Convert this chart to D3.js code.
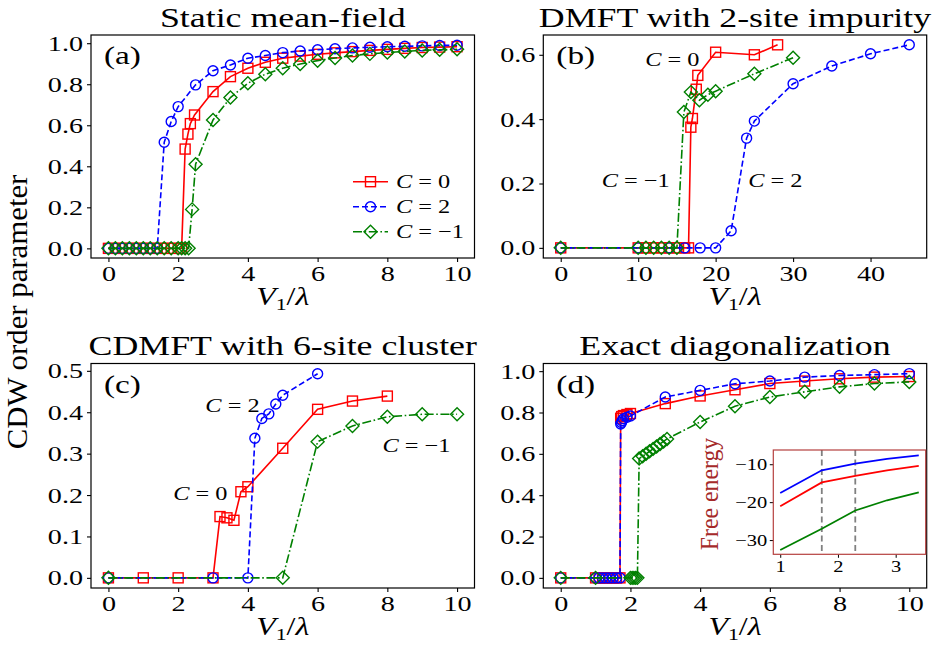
<!DOCTYPE html>
<html><head><meta charset="utf-8">
<script src="https://cdn.jsdelivr.net/npm/d3@7"></script>
<style>body{margin:0;background:#fff}svg{display:block}</style>
</head><body>
<script>
// ---------------- DATA ----------------
// (a) Static mean-field
const a_x_C0  = [0,0.2,0.4,0.6,0.8,1.0,1.2,1.4,1.6,1.8,2.0,2.1,2.2,2.28,2.35,2.47,3.0,3.5,4.0,4.5,5.0,5.5,6.0,6.5,7.0,7.5,8.0,8.5,9.0,9.5,10.0];
const a_y_C0  = [0,0,0,0,0,0,0,0,0,0,0,0,0.484,0.557,0.608,0.650,0.764,0.837,0.878,0.907,0.927,0.937,0.946,0.953,0.959,0.965,0.970,0.975,0.979,0.981,0.983];
const a_x_C2  = [0,0.2,0.4,0.6,0.8,1.0,1.2,1.4,1.6,1.8,2.0,2.5,3.0,3.5,4.0,4.5,5.0,5.5,6.0,6.5,7.0,7.5,8.0,8.5,9.0,9.5,10.0];
const a_y_C2  = [0,0,0,0,0,0,0,0,0.517,0.618,0.691,0.797,0.866,0.894,0.927,0.940,0.954,0.962,0.968,0.973,0.977,0.980,0.983,0.985,0.987,0.989,0.990];
const a_x_Cm1 = [0,0.2,0.4,0.6,0.8,1.0,1.2,1.4,1.6,1.8,2.0,2.1,2.2,2.3,2.4,2.5,3.0,3.5,4.0,4.5,5.0,5.5,6.0,6.5,7.0,7.5,8.0,8.5,9.0,9.5,10.0];
const a_y_Cm1 = [0,0,0,0,0,0,0,0,0,0,0,0,0,0,0.19,0.41,0.626,0.735,0.805,0.849,0.878,0.899,0.915,0.928,0.940,0.948,0.955,0.960,0.965,0.968,0.970];
// (b) DMFT with 2-site impurity
const b_x_C0  = [0,10,11,12,13,14,15,16,16.5,16.8,17,17.5,17.7,20,25,28];
const b_y_C0  = [0,0,0,0,0,0,0,0,0,0.375,0.402,0.493,0.536,0.608,0.600,0.631];
const b_x_C2  = [0,10,14,16,18,20,22,24,25,30,35,40,45];
const b_y_C2  = [0,0,0,0,0,0,0.053,0.341,0.394,0.510,0.565,0.603,0.631];
const b_x_Cm1 = [0,10,11,12,13,14,15,15.9,16.8,17.9,19,20,25,30];
const b_y_Cm1 = [0,0,0,0,0,0,0,0.422,0.484,0.459,0.476,0.487,0.541,0.591];
// (c) CDMFT with 6-site cluster
const c_x_C0  = [0,1,2,3,3.2,3.4,3.6,3.8,4.0,5,6,7,8];
const c_y_C0  = [0,0,0,0,0.148,0.145,0.139,0.208,0.220,0.313,0.407,0.427,0.439];
const c_x_C2  = [0,3,4,4.2,4.4,4.6,4.8,5,6];
const c_y_C2  = [0,0,0,0.337,0.385,0.396,0.420,0.441,0.493];
const c_x_Cm1 = [0,5,6,7,8,9,10];
const c_y_Cm1 = [0,0,0.329,0.367,0.389,0.395,0.395];
// (d) Exact diagonalization
const d_x_C0  = [0,1.0,1.1,1.2,1.3,1.4,1.5,1.6,1.7,1.72,1.75,1.8,1.9,2.0,3,4,5,6,7,8,9,10];
const d_y_C0  = [0,0,0,0,0,0,0,0,0,0.772,0.780,0.785,0.790,0.795,0.843,0.880,0.910,0.940,0.952,0.963,0.971,0.974];
const d_x_C2  = [0,1.0,1.1,1.2,1.3,1.4,1.5,1.6,1.7,1.72,1.74,1.76,1.8,1.9,2.0,3,4,5,6,7,8,9,10];
const d_y_C2  = [0,0,0,0,0,0,0,0,0,0.745,0.752,0.760,0.770,0.777,0.783,0.875,0.907,0.939,0.952,0.971,0.979,0.983,0.988];
const d_x_Cm1 = [0,1.0,2.0,2.05,2.1,2.15,2.2,2.25,2.35,2.45,2.55,2.65,2.75,2.85,2.95,3.05,4,5,6,7,8,9,10];
const d_y_Cm1 = [0,0,0,0,0,0,0,0.577,0.588,0.600,0.612,0.624,0.636,0.648,0.660,0.672,0.754,0.830,0.875,0.900,0.924,0.940,0.948];
// inset: free energy
const ins_x     = [1, 1.72, 2.3, 2.85, 3.4];
const ins_C2    = [-17.6, -11.6, -9.85, -8.6, -7.65];
const ins_C0    = [-21.1, -14.8, -13.05, -11.6, -10.45];
const ins_Cm1   = [-32.6, -27.0, -22.2, -19.5, -17.4];
const ins_vlines = [1.72, 2.3];
// tick labels
const xt_a = [0,2,4,6,8,10], yt_a = [0,0.2,0.4,0.6,0.8,1.0];
const xt_b = [0,10,20,30,40], yt_b = [0,0.2,0.4,0.6];
const xt_c = [0,2,4,6,8,10], yt_c = [0,0.1,0.2,0.3,0.4,0.5];
const xt_d = [0,2,4,6,8,10], yt_d = [0,0.2,0.4,0.6,0.8,1.0];
const xt_ins = [1,2,3], yt_ins = [-10,-20,-30];
const titles = ["Static mean-field","DMFT with 2-site impurity","CDMFT with 6-site cluster","Exact diagonalization"];
const panelLabels = ["(a)","(b)","(c)","(d)"];
const legendLabels = ["0","2","\u22121"];

// ---------------- STYLE ----------------
const SX = 1.28;
const FONT = "'Liberation Serif','Times New Roman',serif";
const COL = {C0:"#ff0000", C2:"#0000ff", Cm1:"#008000"};
const DASH = {C0:null, C2:"6,3", Cm1:"9,2.6,1.6,2.6"};

const svg = d3.select("body").append("svg").attr("width",938).attr("height",667);
svg.append("rect").attr("width",938).attr("height",667).attr("fill","#fff");

function T(parent, x, y, o={}) {
  const size=o.size||22, sx=o.sx||SX, sy=o.sy||1;
  const t = parent.append("text")
    .attr("transform", `translate(${x},${y})` + (o.rotate?` rotate(${o.rotate})`:"") + ` scale(${sx},${sy})`)
    .attr("font-family", FONT).attr("font-size", size)
    .attr("text-anchor", o.anchor||"start").attr("fill", o.color||"#000");
  if (o.italic) t.attr("font-style","italic");
  if (o.text!==undefined) t.text(o.text);
  return t;
}
function mathC(parent, x, y, val, size, anchor) {
  const t = T(parent, x, y, {size:size, anchor:anchor||"start"});
  t.append("tspan").attr("font-style","italic").text("C");
  t.append("tspan").text(" = " + val);
  return t;
}
function marker(g, type, cx, cy, color) {
  if (type==="C0") g.append("rect").attr("x",cx-5).attr("y",cy-5).attr("width",10).attr("height",10)
      .attr("fill","none").attr("stroke",color).attr("stroke-width",1.4);
  else if (type==="C2") g.append("ellipse").attr("cx",cx).attr("cy",cy).attr("rx",5).attr("ry",5)
      .attr("fill","none").attr("stroke",color).attr("stroke-width",1.4);
  else g.append("path").attr("d",`M${cx},${cy-6.5}L${cx+6.5},${cy}L${cx},${cy+6.5}L${cx-6.5},${cy}Z`)
      .attr("fill","none").attr("stroke",color).attr("stroke-width",1.4);
}

function panel(p) {
  const g = svg.append("g");
  const x = d3.scaleLinear().domain(p.xd).range([p.x0,p.x1]);
  const y = d3.scaleLinear().domain(p.yd).range([p.y1,p.y0]);
  const ax = g.append("g").attr("transform",`translate(0,${p.y1})`)
    .call(d3.axisBottom(x).tickValues(p.xt).tickSize(4).tickSizeOuter(0).tickPadding(3).tickFormat(d3.format("d")));
  const ay = g.append("g").attr("transform",`translate(${p.x0},0)`)
    .call(d3.axisLeft(y).tickValues(p.yt).tickSize(4).tickSizeOuter(0).tickPadding(3).tickFormat(d3.format(".1f")));
  [ax,ay].forEach(a=>{
    a.select(".domain").remove();
    a.selectAll("line").attr("stroke","#000").attr("stroke-width",1.1);
    a.selectAll("text").attr("font-family",FONT).attr("font-size",22).attr("fill","#000");
  });
  ax.selectAll("text").attr("transform",`scale(${SX},1)`);
  ay.selectAll("text").attr("x",-8/SX).attr("transform",`scale(${SX},1)`);
  const series = [["C0",p.s.C0],["C2",p.s.C2],["Cm1",p.s.Cm1]];
  series.forEach(([k,[xs,ys]])=>{
    const pts = xs.map((v,i)=>[x(v),y(ys[i])]);
    const path = g.append("path").attr("d",d3.line()(pts)).attr("fill","none")
      .attr("stroke",COL[k]).attr("stroke-width",1.6);
    if (DASH[k]) path.attr("stroke-dasharray",DASH[k]);
    pts.forEach(q=>marker(g,k,q[0],q[1],COL[k]));
  });
  g.append("rect").attr("x",p.x0).attr("y",p.y0).attr("width",p.x1-p.x0).attr("height",p.y1-p.y0)
    .attr("fill","none").attr("stroke","#000").attr("stroke-width",1.2);
  T(svg,(p.x0+p.x1)/2,p.ty,{size:28,anchor:"middle",text:p.title});
  T(svg,p.x0+13,p.y0+29,{size:26,text:p.label});
  const xl = T(svg,(p.x0+p.x1)/2,p.y1+47,{size:25,anchor:"middle"});
  xl.append("tspan").attr("font-style","italic").text("V");
  xl.append("tspan").attr("font-size",17).attr("dy",5).text("1");
  xl.append("tspan").attr("dy",-5).text("/");
  xl.append("tspan").attr("font-style","italic").text("\u03bb");
  return {g,x,y};
}

const A = panel({x0:91,x1:474.5,y0:35,y1:258,xd:[-0.5,10.5],yd:[-0.047,1.04],xt:xt_a,yt:yt_a,
  s:{C0:[a_x_C0,a_y_C0],C2:[a_x_C2,a_y_C2],Cm1:[a_x_Cm1,a_y_Cm1]},title:titles[0],label:panelLabels[0],ty:27});
const B = panel({x0:543.3,x1:926.7,y0:35,y1:258,xd:[-2.25,47.25],yd:[-0.0315,0.6615],xt:xt_b,yt:yt_b,
  s:{C0:[b_x_C0,b_y_C0],C2:[b_x_C2,b_y_C2],Cm1:[b_x_Cm1,b_y_Cm1]},title:titles[1],label:panelLabels[1],ty:27});
const C = panel({x0:91,x1:474.5,y0:363.5,y1:588,xd:[-0.5,10.5],yd:[-0.0245,0.5177],xt:xt_c,yt:yt_c,
  s:{C0:[c_x_C0,c_y_C0],C2:[c_x_C2,c_y_C2],Cm1:[c_x_Cm1,c_y_Cm1]},title:titles[2],label:panelLabels[2],ty:355});
const D = panel({x0:543.3,x1:926.7,y0:363.5,y1:588,xd:[-0.5,10.5],yd:[-0.049,1.037],xt:xt_d,yt:yt_d,
  s:{C0:[d_x_C0,d_y_C0],C2:[d_x_C2,d_y_C2],Cm1:[d_x_Cm1,d_y_Cm1]},title:titles[3],label:panelLabels[3],ty:355});

// legend in (a)
["C0","C2","Cm1"].forEach((k,i)=>{
  const yy = 181.7 + i*25;
  const l = A.g.append("line").attr("x1",353).attr("x2",388).attr("y1",yy).attr("y2",yy)
    .attr("stroke",COL[k]).attr("stroke-width",1.6);
  if (DASH[k]) l.attr("stroke-dasharray",DASH[k]);
  marker(A.g,k,370.5,yy,COL[k]);
  mathC(A.g,396,yy+6.5,legendLabels[i],19);
});
// annotations
mathC(B.g,B.x(10.9),B.y(0.566),"0",19);
mathC(B.g,B.x(5.3),B.y(0.189),"\u22121",19);
mathC(B.g,B.x(24.2),B.y(0.189),"2",19);
mathC(C.g,C.x(1.86),C.y(0.189),"0",19);
mathC(C.g,C.x(2.78),C.y(0.40),"2",19);
mathC(C.g,C.x(7.86),C.y(0.303),"\u22121",19);

// y label
T(svg,27,312,{size:28,anchor:"middle",rotate:-90,sx:1.1,sy:1.08,text:"CDW order parameter"});

// inset
const ig = svg.append("g");
const ix = d3.scaleLinear().domain([0.88,3.52]).range([773.3,925.7]);
const iy = d3.scaleLinear().domain([-33.75,-6.25]).range([554.3,450]);
ig.append("rect").attr("x",773.3).attr("y",450).attr("width",152.4).attr("height",104.3).attr("fill","#fff");
ins_vlines.forEach(v=>ig.append("line").attr("x1",ix(v)).attr("x2",ix(v)).attr("y1",450).attr("y2",554.3)
  .attr("stroke","#808080").attr("stroke-width",1.8).attr("stroke-dasharray","6,3.5"));
[["C2",ins_C2],["C0",ins_C0],["Cm1",ins_Cm1]].forEach(([k,ys])=>{
  ig.append("path").attr("d",d3.line()(ins_x.map((v,i)=>[ix(v),iy(ys[i])]))).attr("fill","none")
    .attr("stroke",COL[k]).attr("stroke-width",1.8);
});
const iax = ig.append("g").attr("transform","translate(0,554.3)")
  .call(d3.axisBottom(ix).tickValues(xt_ins).tickSize(3.5).tickSizeOuter(0).tickPadding(3).tickFormat(d3.format("d")));
const iay = ig.append("g").attr("transform","translate(773.3,0)")
  .call(d3.axisLeft(iy).tickValues(yt_ins).tickSize(3.5).tickSizeOuter(0).tickPadding(3).tickFormat(d3.format("d")));
[iax,iay].forEach(a=>{
  a.select(".domain").remove();
  a.selectAll("line").attr("stroke","#000").attr("stroke-width",1);
  a.selectAll("text").attr("font-family",FONT).attr("font-size",16).attr("fill","#000");
});
iax.selectAll("text").attr("transform",`scale(${SX},1)`);
iay.selectAll("text").attr("x",-6/SX).attr("transform",`scale(${SX},1)`);
ig.append("rect").attr("x",773.3).attr("y",450).attr("width",152.4).attr("height",104.3)
  .attr("fill","none").attr("stroke","#b5403f").attr("stroke-width",1.2);
T(ig,718,494,{size:22,anchor:"middle",rotate:-90,sx:1.08,sy:1.15,color:"#a52a2a",text:"Free energy"});
</script>
</body></html>
